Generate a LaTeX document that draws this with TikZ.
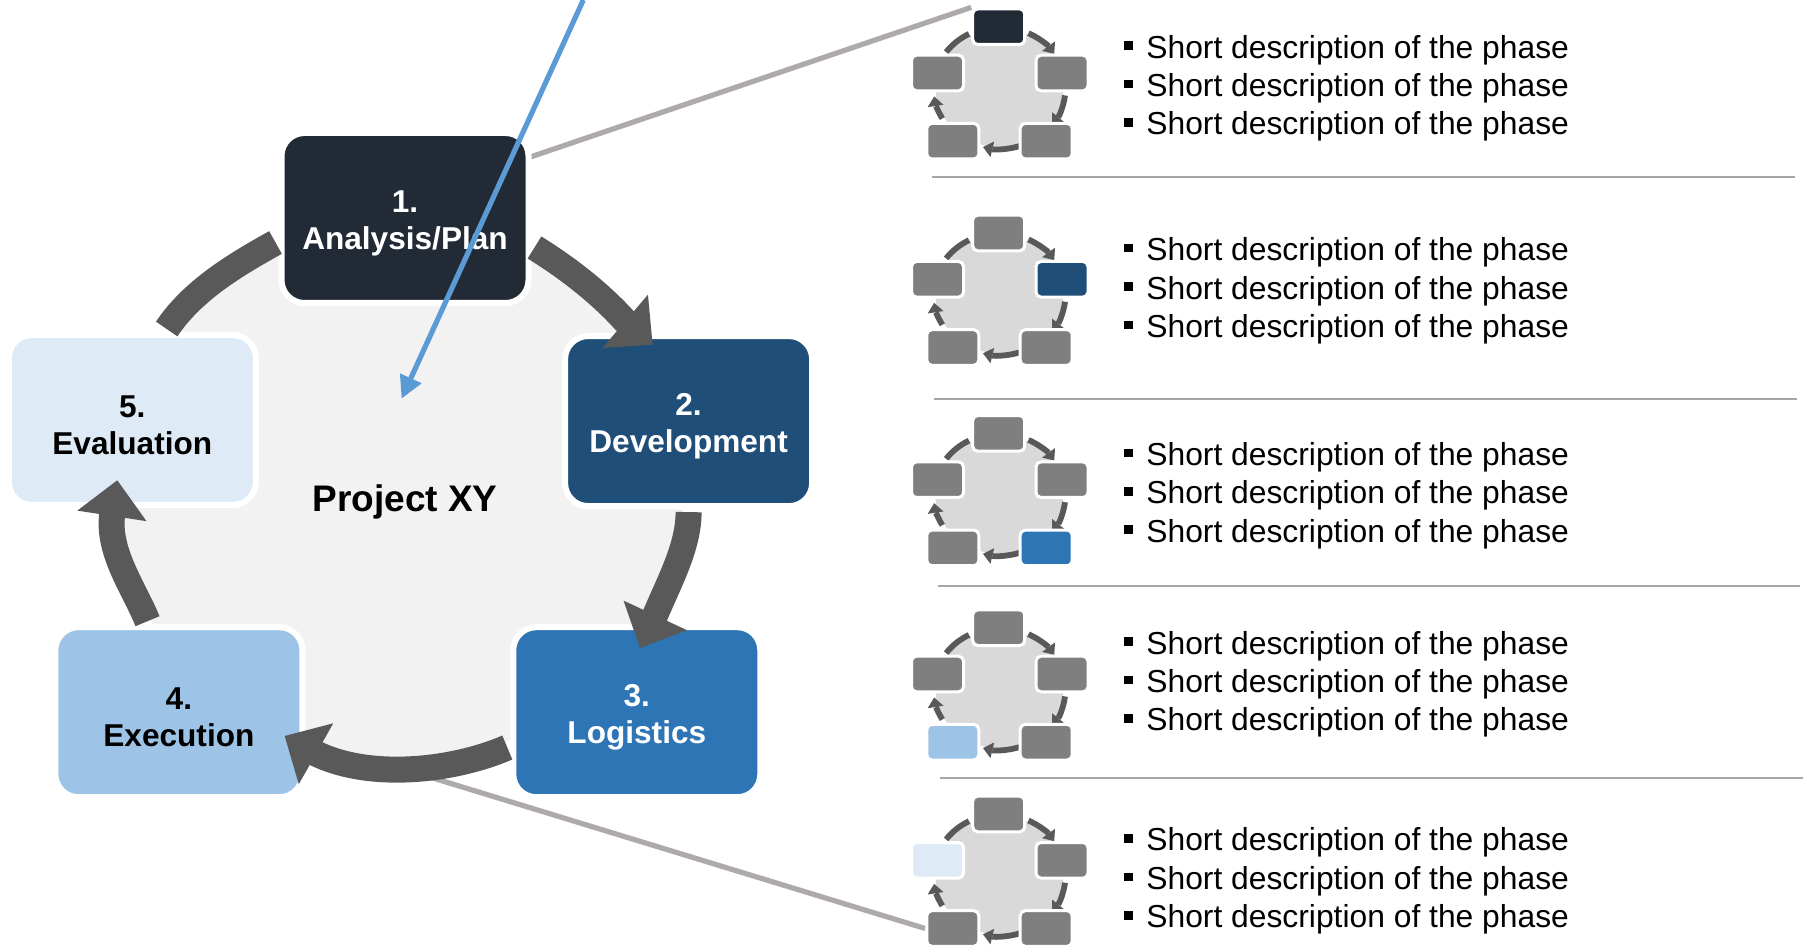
\documentclass[tikz,border=0pt]{standalone}
\usepackage{fontspec}
\setmainfont{Liberation Sans}
\usetikzlibrary{arrows.meta,calc,backgrounds}

\definecolor{phaseA}{RGB}{34,42,53}
\definecolor{phaseB}{RGB}{31,78,121}
\definecolor{phaseC}{RGB}{46,117,182}
\definecolor{phaseD}{RGB}{157,195,230}
\definecolor{phaseE}{RGB}{222,235,247}
\definecolor{ringgrey}{RGB}{89,89,89}
\definecolor{ringfill}{RGB}{242,242,242}
\definecolor{minigrey}{RGB}{127,127,127}
\definecolor{minifill}{RGB}{217,217,217}
\definecolor{zoomgrey}{RGB}{174,170,170}
\definecolor{sepgrey}{RGB}{166,166,166}
\definecolor{pointerblue}{RGB}{91,155,213}

\newcommand{\sqbullet}{\rule[4.1pt]{4.4pt}{4.3pt}\hspace{6.6pt}}
\newcommand{\phasetext}[2]{\rule{0pt}{16pt}#1\\#2}

\tikzset{
  phase/.style={draw=white, line width=3pt, rounded corners=11.5pt,
    minimum width=123.5pt, minimum height=85pt, inner sep=0pt, align=center,
    font=\bfseries\fontsize{15.8}{18.5}\selectfont},
  minibox/.style={draw=white, line width=1.5pt, rounded corners=2.5pt,
    minimum width=26pt, minimum height=17.8pt, inner sep=0pt},
  ringband/.style={draw=ringgrey, line width=13pt},
  ringarrow/.style={ringband, -{Triangle[length=18pt,width=35pt,line width=0pt]}},
  miniband/.style={draw=ringgrey, line width=2.9pt},
  miniarrow/.style={miniband, -{Triangle[length=4.8pt,width=8pt,line width=0pt]}},
  zoomline/.style={draw=zoomgrey, line width=2.6pt},
  sepline/.style={draw=sepgrey, line width=1pt},
  pointer/.style={draw=pointerblue, line width=2.6pt,
    -{Triangle[length=11pt,width=12pt,line width=0pt]}},
  desc/.style={anchor=base west, inner sep=0pt, font=\fontsize{15.9}{19}\selectfont},
}

\begin{document}
\begin{tikzpicture}[x=0.5pt,y=-0.5pt]
\useasboundingbox (0,0) rectangle (1804,951);
\begin{scope}[on background layer]
  \fill[white] (0,0) rectangle (1804,951);
\end{scope}
%% cycle
\fill[ringfill] (400,492) ellipse [x radius=283, y radius=269];
\node[phase, fill=phaseA, text=white] (b1) at (405,218) {\phasetext{1.}{Analysis/Plan}};
\node[phase, fill=phaseB, text=white] (b2) at (688.6,421.1) {\phasetext{2.}{Development}};
\node[phase, fill=phaseC, text=white] (b3) at (636.8,712.2) {\phasetext{3.}{Logistics}};
\node[phase, fill=phaseD, text=black] (b4) at (178.9,712.2) {\phasetext{4.}{Execution}};
\node[phase, fill=phaseE, text=black] (b5) at (132.3,420) {\phasetext{5.}{Evaluation}};
\draw[ringarrow] ($(b1.east)+(3,29.5)$) .. controls (566,267) and (599,292) .. (626,322)
  -- ($(b2.north)+(-36,11.6)$);
\draw[ringarrow] ($(b2.south)+(0,3)$) .. controls (688.6,547) and (669,582) .. (654,618)
  -- ($(b3.north)+(3.2,23.8)$);
\draw[ringarrow] ($(b3.west)+(-3,35.3)$) .. controls (453,771) and (368.5,780.5) .. (313.3,752.2)
  -- ($(b4.east)+(-20.7,23.8)$);
\draw[ringarrow] ($(b4.north)+(-31.4,-3)$) .. controls (133.8,587.4) and (106.9,551.9) .. (112.3,513.2)
  -- ($(b5.south)+(-15,-27.7)$);
\draw[ringband] ($(b5.north)+(34.4,-3)$) .. controls (192.4,290.5) and (235.2,264.9)
  .. ($(b1.west)+(-3,24.5)$);
\node[font=\bfseries\fontsize{18.5}{22}\selectfont] (proj) at (405,501.5) {Project XY};
%% small cycles
\foreach \dy/\hl/\hc [count=\m] in {0/1/phaseA, 206.3/2/phaseB, 406.7/3/phaseC, 601/4/phaseD, 787.3/5/phaseE}{
  \begin{scope}[shift={(0,\dy)}]
    \fill[minifill] (999.5,88) ellipse [x radius=64, y radius=59];
    \foreach \a/\b in {-64/-34, 7/37, 72/104.5, 150/172}
      \draw[miniarrow] (999.5,88) ++(\a:66 and 61) arc[start angle=\a, end angle=\b, x radius=66, y radius=61];
    \draw[miniband] (999.5,88) ++(216:66 and 61) arc[start angle=216, end angle=242.5, x radius=66, y radius=61];
    \foreach \k/\px/\py in {1/998.7/26.7, 2/1062/73, 3/1046.2/141.2, 4/952.8/141.2, 5/937.5/73}{
      \ifnum\k=\hl \def\boxcol{\hc}\else \def\boxcol{minigrey}\fi
      \node[minibox, fill=\boxcol] (m\m-\k) at (\px,\py) {};
    }
  \end{scope}
}
%% descriptions
\foreach \y [count=\g] in {58.2,260.7,465.4,654.1,850.9}
  \foreach \k in {0,1,2}
    \node[desc] (d\g-\k) at (1124,\y+38.4*\k) {\sqbullet Short description of the phase};
\foreach \y/\xa/\xb in {177.2/932/1795, 399.2/934/1797, 585.6/938/1800, 777.7/940/1803}
  \draw[sepline] (\xa,\y) -- (\xb,\y);
%% zoom lines
\coordinate (ringbottom) at (405,769.5);
\begin{scope}[on background layer]
  \draw[zoomline] ($(b1.east)+(-10,-58)$) -- (m1-1.north west);
  \draw[zoomline] (ringbottom) -- (m5-4.west);
\end{scope}
%% pointer
\coordinate (ptrtop) at (583.3,0);
\coordinate (ptrtip) at (401.7,398.3);
\draw[pointer] (ptrtop) -- (ptrtip);
\end{tikzpicture}
\end{document}
